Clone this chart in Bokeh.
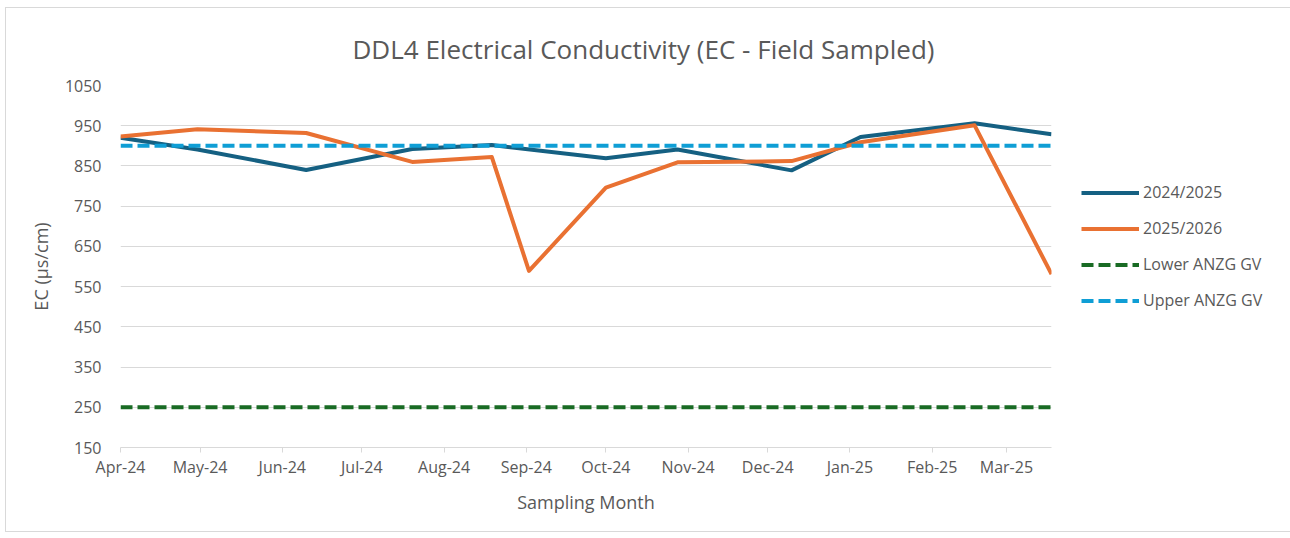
import pandas as pd
from bokeh.plotting import figure
from bokeh.models import Range1d, FixedTicker, DatetimeTickFormatter, Legend, LegendItem
from bokeh.embed import file_html
from bokeh.resources import INLINE

# ---- data ----
dates_2425 = ["2024-04-01", "2024-04-30", "2024-06-10", "2024-07-20", "2024-08-19",
              "2024-10-01", "2024-10-28", "2024-12-10", "2025-01-05", "2025-02-17", "2025-03-18"]
ec_2425 = [920, 891, 840, 892, 902, 869, 891, 839, 922, 956, 929]

dates_2526 = ["2024-04-01", "2024-04-30", "2024-06-10", "2024-07-20", "2024-08-19", "2024-09-02",
              "2024-10-01", "2024-10-28", "2024-12-10", "2025-01-05", "2025-02-17", "2025-03-18"]
ec_2526 = [923, 941, 932, 860, 872, 589, 796, 859, 862, 909, 951, 581]

lower_gv = 250
upper_gv = 900

month_ticks = ["2024-04-01", "2024-05-01", "2024-06-01", "2024-07-01", "2024-08-01", "2024-09-01",
               "2024-10-01", "2024-11-01", "2024-12-01", "2025-01-01", "2025-02-01", "2025-03-01"]
y_ticks = [150, 250, 350, 450, 550, 650, 750, 850, 950, 1050]

series_names = ["2024/2025", "2025/2026", "Lower ANZG GV", "Upper ANZG GV"]
colors = ["#156082", "#E97132", "#196B24", "#0F9ED5"]

FONT = "Open Sans"
TXT = "#595959"

d1 = pd.to_datetime(dates_2425)
d2 = pd.to_datetime(dates_2526)
x_start = min(d1.min(), d2.min())
x_end = max(d1.max(), d2.max())
tick_ms = [pd.Timestamp(t).value // 10**6 for t in month_ticks]

p = figure(frame_width=931, frame_height=362, x_axis_type="datetime",
           output_backend="svg", toolbar_location=None,
           x_range=Range1d(x_start, x_end), y_range=Range1d(y_ticks[0], y_ticks[-1]),
           min_border_left=114, min_border_right=234, min_border_top=77, min_border_bottom=84)
p.outline_line_color = None
p.background_fill_color = "white"
p.border_fill_color = "white"
p.styles = {"border": "1px solid #D9D9D9", "margin-left": "5px", "margin-top": "7px"}

p.title.text = "DDL4 Electrical Conductivity (EC - Field Sampled)"
p.title.align = "left"
p.title.vertical_align = "bottom"
p.title.offset = 232
p.title.standoff = 38
p.title.text_font = FONT
p.title.text_font_size = "26px"
p.title.text_font_style = "normal"
p.title.text_color = TXT

p.xgrid.grid_line_color = None
p.ygrid.grid_line_color = "#D9D9D9"
p.ygrid.grid_line_width = 1

p.yaxis.ticker = FixedTicker(ticks=y_ticks)
p.yaxis.axis_line_color = None
p.yaxis.major_tick_line_color = None
p.yaxis.minor_tick_line_color = None
p.yaxis.major_label_standoff = 13
p.yaxis.axis_label = "EC (µs/cm)"
p.yaxis.axis_label_standoff = 9

p.xaxis.ticker = FixedTicker(ticks=tick_ms)
p.xaxis.formatter = DatetimeTickFormatter(days="%b-%y", months="%b-%y", years="%b-%y",
                                          hours="%b-%y", minutes="%b-%y")
p.xaxis.axis_line_color = "#D9D9D9"
p.xaxis.major_tick_line_color = "#D9D9D9"
p.xaxis.major_tick_out = 5
p.xaxis.major_tick_in = 0
p.xaxis.minor_tick_line_color = None
p.xaxis.major_label_standoff = 3
p.xaxis.axis_label = "Sampling Month"
p.xaxis.axis_label_standoff = 9

for ax in (p.xaxis, p.yaxis):
    ax.major_label_text_font = FONT
    ax.major_label_text_font_size = "16px"
    ax.major_label_text_color = TXT
    ax.axis_label_text_font = FONT
    ax.axis_label_text_font_size = "18px"
    ax.axis_label_text_font_style = "normal"
    ax.axis_label_text_color = TXT

r1 = p.line(d1, ec_2425, line_color=colors[0], line_width=4, line_join="round")
r2 = p.line(d2, ec_2526, line_color=colors[1], line_width=4, line_join="round")
r3 = p.line([x_start, x_end], [lower_gv, lower_gv], line_color=colors[2], line_width=4,
            line_dash="12 5")
r4 = p.line([x_start, x_end], [upper_gv, upper_gv], line_color=colors[3], line_width=4,
            line_dash="12 5")

legend = Legend(items=[LegendItem(label=n, renderers=[r]) for n, r in zip(series_names, [r1, r2, r3, r4])],
                location=(30, 136), orientation="vertical")
legend.border_line_color = None
legend.background_fill_alpha = 0
legend.padding = 0
legend.margin = 0
legend.spacing = 14
legend.glyph_width = 58
legend.glyph_height = 21
legend.label_height = 21
legend.label_standoff = 4
legend.label_text_font = FONT
legend.label_text_font_size = "16px"
legend.label_text_color = TXT
p.add_layout(legend, "right")

open("out.html", "w").write(file_html(p, INLINE))
